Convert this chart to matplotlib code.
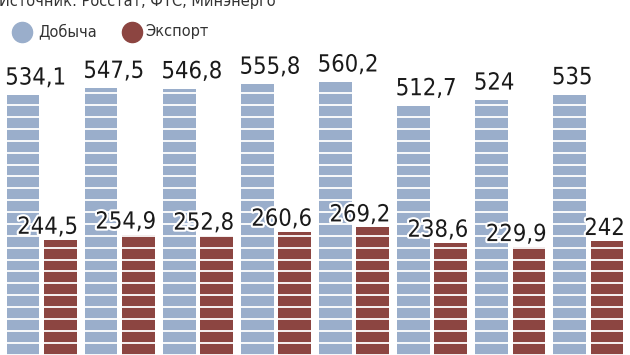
import matplotlib
matplotlib.use("Agg")
from matplotlib import pyplot as plt
import matplotlib.patheffects as pe

# данные
dobycha = [534.1, 547.5, 546.8, 555.8, 560.2, 512.7, 524, 535]
eksport = [244.5, 254.9, 252.8, 260.6, 269.2, 238.6, 229.9, 242]
labels_d = ["534,1", "547,5", "546,8", "555,8", "560,2", "512,7", "524", "535"]
labels_e = ["244,5", "254,9", "252,8", "260,6", "269,2", "238,6", "229,9", "242"]

blue = "#9aaecb"
red = "#8c4541"
W, H = 630, 355

fig = plt.figure(figsize=(6.3, 3.55), dpi=100)
ax = fig.add_axes([0, 0, 1, 1])
ax.set_xlim(-0.534, 7.533)
ax.set_ylim(14, 724)  # низ графика обрезан
ax.axis("off")

x = list(range(len(dobycha)))
bw = 0.419
off = 0.239
xb = [i - off for i in x]
xr = [i + off for i in x]
ax.bar(xb, dobycha, width=bw, color=blue, zorder=1)
ax.bar(xr, eksport, width=bw, color=red, zorder=1)

# белые полоски поперёк столбцов
y = 14.85
while y < 600:
    ax.axhline(y, color="white", lw=1.3, zorder=2)
    y += 23.75

halo = [pe.withStroke(linewidth=3, foreground="white")]
num_kw = dict(fontsize=17, family="DejaVu Sans", stretch="condensed",
              color="#1a1a1a", path_effects=halo, zorder=5,
              textcoords="offset points", va="baseline")
for i in x:
    ax.annotate(labels_d[i], (xb[i] - bw / 2, dobycha[i]), xytext=(-1, 7.5),
                ha="left", **num_kw)
    ax.annotate(labels_e[i], (xr[i] + bw / 2, eksport[i]), xytext=(1, 4.3),
                ha="right", **num_kw)

# подпись источника (обрезана сверху)
fig.text(-1 / W, 1 - 6 / H, "Источник: Росстат, ФТС, Минэнерго",
         fontsize=10.5, color="#333333", ha="left", va="baseline")

# легенда
fig.lines.append(plt.Line2D([22 / W], [1 - 32 / H], marker="o", markersize=14.5,
                            color=blue, transform=fig.transFigure))
fig.lines.append(plt.Line2D([131.7 / W], [1 - 32 / H], marker="o", markersize=14.5,
                            color=red, transform=fig.transFigure))
fig.text(38 / W, 1 - 36 / H, "Добыча", fontsize=10.5, color="#333333",
         ha="left", va="baseline")
fig.text(145.7 / W, 1 - 36 / H, "Экспорт", fontsize=10.5, color="#333333",
         ha="left", va="baseline")

fig.savefig("out.png", dpi=100)
